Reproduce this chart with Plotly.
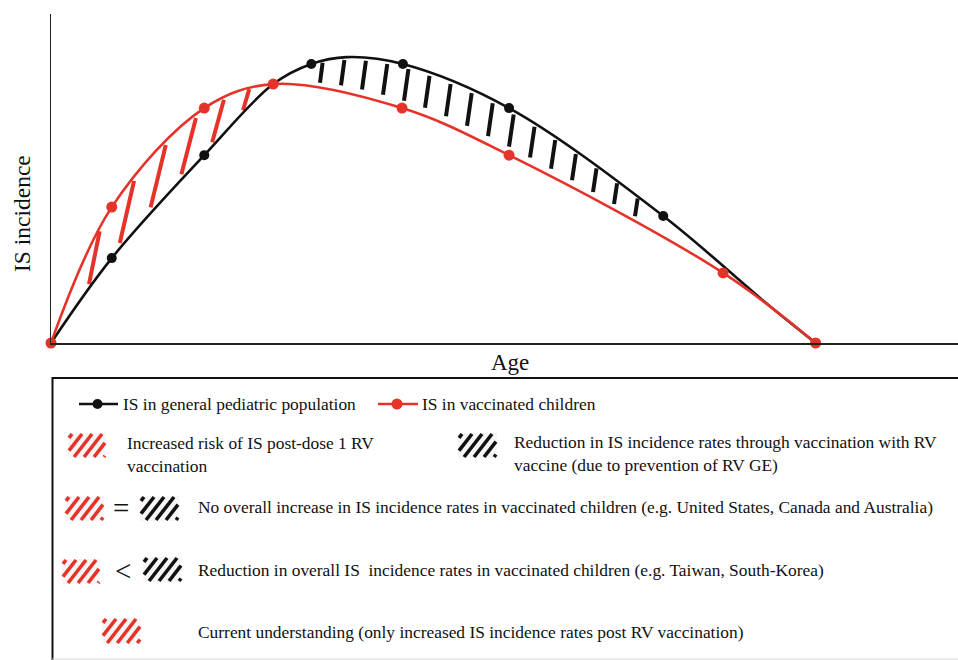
import numpy as np
import plotly.graph_objects as go

# ---------------- data (arbitrary units) ----------------
age_general = [0.0, 0.67, 1.69, 2.45, 2.87, 3.26, 3.88, 5.05, 6.75, 7.89, 8.43]
inc_general = [0.0, 2.58, 5.71, 7.87, 8.48, 8.69, 8.48, 7.14, 3.86, 1.20, 0.0]
marked_general = [1, 1, 1, 0, 1, 0, 1, 1, 1, 0, 0]

age_vacc = [0.0, 0.67, 1.69, 2.45, 3.87, 5.05, 7.41, 8.43]
inc_vacc = [0.0, 4.13, 7.14, 7.87, 7.14, 5.71, 2.13, 0.0]

legend_lines = [
    "IS in general pediatric population",
    "IS in vaccinated children",
]
legend_texts = [
    "Increased risk of IS post-dose 1 RV<br>vaccination",
    "Reduction in IS incidence rates through vaccination with RV<br>vaccine (due to prevention of RV GE)",
    "No overall increase in IS incidence rates in vaccinated children (e.g. United States, Canada and Australia)",
    "Reduction in overall IS\u00a0 incidence rates in vaccinated children (e.g. Taiwan, South-Korea)",
    "Current understanding (only increased IS incidence rates post RV vaccination)",
]

# ---------------- layout geometry ----------------
W, H = 958, 660
AX_L, AX_T, AX_B = 51, 14, 343          # pixel positions of the main axes
XR, YR = (0, 10), (0, 10)
SX = (W - AX_L) / (XR[1] - XR[0])
SY = (AX_B - AX_T) / (YR[1] - YR[0])

BLACK = "#111111"
RED = "#e5332a"
FONT = "Liberation Serif"


def to_px(x, y):
    return AX_L + (np.asarray(x) - XR[0]) * SX, AX_B - (np.asarray(y) - YR[0]) * SY


# replicate plotly's spline so the hatching sits between the drawn curves
def _tangent(p0, p1, p2, s=1.0):
    d1x, d1y = p0[0] - p1[0], p0[1] - p1[1]
    d2x, d2y = p2[0] - p1[0], p2[1] - p1[1]
    d1a = (d1x * d1x + d1y * d1y) ** 0.25
    d2a = (d2x * d2x + d2y * d2y) ** 0.25
    nx = (d2a * d2a * d1x - d1a * d1a * d2x) * s
    ny = (d2a * d2a * d1y - d1a * d1a * d2y) * s
    den1 = 3 * d2a * (d1a + d2a)
    den2 = 3 * d1a * (d1a + d2a)
    return ((p1[0] + nx / den1, p1[1] + ny / den1), (p1[0] - nx / den2, p1[1] - ny / den2))


def spline_dense(xs, ys, n=60):
    px, py = to_px(xs, ys)
    pts = list(zip(px, py))
    tg = [_tangent(pts[i - 1], pts[i], pts[i + 1]) for i in range(1, len(pts) - 1)]
    t = np.linspace(0, 1, n)
    out_x, out_y = [], []

    def quad(a, b, c):
        return [((1 - t) ** 2) * a[k] + 2 * (1 - t) * t * b[k] + t ** 2 * c[k] for k in (0, 1)]

    def cub(a, b, c, d):
        return [((1 - t) ** 3) * a[k] + 3 * (1 - t) ** 2 * t * b[k] + 3 * (1 - t) * t ** 2 * c[k] + t ** 3 * d[k]
                for k in (0, 1)]

    segs = [quad(pts[0], tg[0][0], pts[1])]
    for i in range(2, len(pts) - 1):
        segs.append(cub(pts[i - 1], tg[i - 2][1], tg[i - 1][0], pts[i]))
    segs.append(quad(pts[-2], tg[-1][1], pts[-1]))
    for sx_, sy_ in segs:
        out_x.extend(sx_)
        out_y.extend(sy_)
    out_x, out_y = np.array(out_x), np.array(out_y)
    order = np.argsort(out_x)
    return out_x[order], out_y[order]


gen_px, gen_py = spline_dense(age_general, inc_general)
vac_px, vac_py = spline_dense(age_vacc, inc_vacc)


def curve_py(cx, cy, xpx):
    return np.interp(xpx, cx, cy)


def px_to_data(xp, yp):
    return XR[0] + (np.asarray(xp) - AX_L) / SX, YR[0] + (AX_B - np.asarray(yp)) / SY


# hatch dashes between the two curves (decoration derived from the curves)
def hatch(x_start_px, x_stop_px, count, lower, upper, lean, f_lo, f_hi):
    hx, hy = [], []
    for xb in np.linspace(x_start_px, x_stop_px, count):
        lo_b = curve_py(*lower, xb)
        up_b = curve_py(*upper, xb)
        gap = lo_b - up_b
        xt = xb + lean * gap
        lo_t = curve_py(*lower, xt)
        up_t = curve_py(*upper, xt)
        y_bottom = lo_b - f_lo * (lo_b - up_b)
        y_top = up_t + f_hi * (lo_t - up_t)
        dx, dy = px_to_data([xb, xt], [y_bottom, y_top])
        hx += list(dx) + [None]
        hy += list(dy) + [None]
    return hx, hy


red_hx, red_hy = hatch(89, 243, 6, (gen_px, gen_py), (vac_px, vac_py), 0.27, 0.10, 0.08)
blk_hx, blk_hy = hatch(320, 635, 16, (vac_px, vac_py), (gen_px, gen_py), 0.10, 0.18, 0.08)

fig = go.Figure()

fig.add_trace(go.Scatter(x=blk_hx, y=blk_hy, mode="lines", line=dict(color=BLACK, width=4),
                         hoverinfo="skip", xaxis="x", yaxis="y"))
fig.add_trace(go.Scatter(x=red_hx, y=red_hy, mode="lines", line=dict(color=RED, width=4),
                         hoverinfo="skip", xaxis="x", yaxis="y"))

fig.add_trace(go.Scatter(x=age_general, y=inc_general, mode="lines", line=dict(color=BLACK, width=2.6, shape="spline"),
                         name=legend_lines[0], cliponaxis=False))
fig.add_trace(go.Scatter(x=age_vacc, y=inc_vacc, mode="lines", line=dict(color=RED, width=2.6, shape="spline"),
                         name=legend_lines[1], cliponaxis=False))

mg_x = [a for a, m in zip(age_general, marked_general) if m]
mg_y = [v for v, m in zip(inc_general, marked_general) if m]
fig.add_trace(go.Scatter(x=mg_x, y=mg_y, mode="markers", marker=dict(color=BLACK, size=10),
                         cliponaxis=False, hoverinfo="skip"))
fig.add_trace(go.Scatter(x=age_vacc, y=inc_vacc, mode="markers", marker=dict(color=RED, size=11),
                         cliponaxis=False, hoverinfo="skip"))

# ---------------- legend panel (pixel overlay axes) ----------------
shapes = []
annotations = []


def box_stripes(x0, x1, y0, y1, spacing=10.0, lean=0.78):
    h = y1 - y0
    off = lean * h
    xs, ys = [], []
    b = x0 - off + 3
    while b < x1:
        t0 = max(0.0, (x0 - b) / off)
        t1 = min(1.0, (x1 - b) / off)
        if t1 > t0:
            xs += [b + t0 * off, b + t1 * off, None]
            ys += [y1 - t0 * h, y1 - t1 * h, None]
        b += spacing
    return xs, ys


red_boxes = [(69, 105, 434, 457), (66, 103, 497, 520), (63, 99, 560, 583), (103, 140, 619, 643)]
blk_boxes = [(459, 496, 434, 457), (141, 178, 497, 520), (144, 181, 558, 581)]

for boxes, col in ((red_boxes, RED), (blk_boxes, BLACK)):
    sx_all, sy_all = [], []
    for bx in boxes:
        shapes.append(dict(type="rect", xref="x2", yref="y2", x0=bx[0] - 1, x1=bx[1] + 1, y0=bx[2] - 1, y1=bx[3] + 1,
                           line=dict(width=0), fillcolor="rgba(0,0,0,0.035)", layer="below"))
        a, b_ = box_stripes(*bx)
        sx_all += a
        sy_all += b_
    fig.add_trace(go.Scatter(x=sx_all, y=sy_all, mode="lines", line=dict(color=col, width=3.6),
                             xaxis="x2", yaxis="y2", hoverinfo="skip", cliponaxis=False))

# line+marker legend symbols
for (x0, x1), col, ms in (((79, 118), BLACK, 10), ((378, 418), RED, 11)):
    fig.add_trace(go.Scatter(x=[x0, x1], y=[404, 404], mode="lines", line=dict(color=col, width=2.6),
                             xaxis="x2", yaxis="y2", hoverinfo="skip"))
    fig.add_trace(go.Scatter(x=[(x0 + x1) / 2 - 1], y=[404], mode="markers", marker=dict(color=col, size=ms),
                             xaxis="x2", yaxis="y2", hoverinfo="skip"))

# panel frame
shapes += [
    dict(type="line", xref="x2", yref="y2", x0=52, x1=W + 5, y0=378, y1=378, line=dict(color=BLACK, width=2)),
    dict(type="line", xref="x2", yref="y2", x0=52.5, x1=52.5, y0=377, y1=H + 5, line=dict(color=BLACK, width=2)),
    dict(type="line", xref="x2", yref="y2", x0=52, x1=W + 5, y0=659, y1=659, line=dict(color="#d8d8d8", width=1)),
]


def ann(x, y, text, size=17.4, xanchor="left", angle=0):
    annotations.append(dict(xref="x2", yref="y2", x=x, y=y, text=text, showarrow=False, xanchor=xanchor,
                            yanchor="middle", align="left", textangle=angle,
                            font=dict(family=FONT, size=size, color=BLACK)))


ann(121, 404, legend_lines[0])
ann(420, 404, legend_lines[1])
ann(125, 454, legend_texts[0])
ann(512, 453, legend_texts[1])
ann(196, 507, legend_texts[2])
ann(196, 570, legend_texts[3])
ann(196, 632, legend_texts[4])
ann(121, 508, "=", size=29, xanchor="center")
ann(123, 571, "<", size=29, xanchor="center")

# axis titles
ann(510, 362, "Age", size=23, xanchor="center")
ann(22, 214, "IS incidence", size=23.5, xanchor="center", angle=-90)

fig.update_layout(
    width=W, height=H,
    margin=dict(l=0, r=0, t=0, b=0),
    paper_bgcolor="white", plot_bgcolor="rgba(0,0,0,0)",
    showlegend=False,
    xaxis=dict(domain=[AX_L / W, 1], range=list(XR), showline=True, linecolor="#222222", linewidth=1.6,
               showgrid=False, zeroline=False, showticklabels=False, ticks="", fixedrange=True),
    yaxis=dict(domain=[(H - AX_B) / H, (H - AX_T) / H], range=list(YR), showline=True, linecolor="#222222",
               linewidth=1.4, showgrid=False, zeroline=False, showticklabels=False, ticks="", fixedrange=True),
    xaxis2=dict(domain=[0, 1], range=[0, W], visible=False, fixedrange=True, anchor="y2"),
    yaxis2=dict(domain=[0, 1], range=[H, 0], visible=False, fixedrange=True, anchor="x2"),
    shapes=shapes,
    annotations=annotations,
)

fig.write_html("out.html", config={"displayModeBar": False},
               post_script="document.body.style.margin='0';document.body.style.overflow='hidden';")
